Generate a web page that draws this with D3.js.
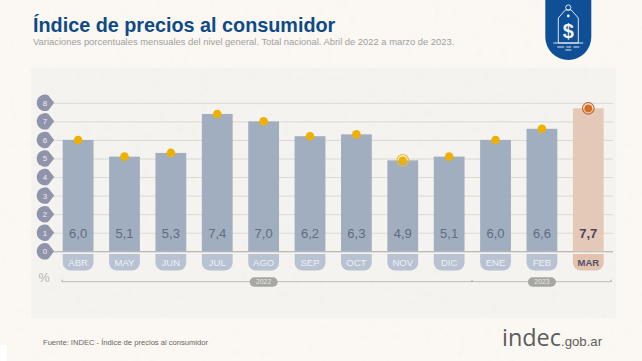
<!DOCTYPE html>
<html>
<head>
<meta charset="utf-8">
<script src="https://cdn.jsdelivr.net/npm/d3@7"></script>
<style>
  html, body { margin: 0; padding: 0; background: #fbf8f3; }
  svg { display: block; font-family: "Liberation Sans", Arial, sans-serif; }
</style>
</head>
<body>
<div id="chart"></div>
<script>
const months = ['ABR', 'MAY', 'JUN', 'JUL', 'AGO', 'SEP', 'OCT', 'NOV', 'DIC', 'ENE', 'FEB', 'MAR'];
const values = [6.0, 5.1, 5.3, 7.4, 7.0, 6.2, 6.3, 4.9, 5.1, 6.0, 6.6, 7.7];
const yTicks = [0, 1, 2, 3, 4, 5, 6, 7, 8];
const years = [{ label: '2022', month: 'AGO' }, { label: '2023', month: 'FEB' }];
const ringed = ['NOV', 'MAR'];
const highlight = 'MAR';

const width = 642;
const height = 361;

const svg = d3.select('#chart').append('svg')
  .attr('width', width)
  .attr('height', height)
  .attr('viewBox', `0 0 ${width} ${height}`);

// paper grain
const defs = svg.append('defs');
const grain = defs.append('filter').attr('id', 'grain').attr('x', 0).attr('y', 0).attr('width', '100%').attr('height', '100%');
grain.append('feTurbulence').attr('type', 'fractalNoise').attr('baseFrequency', 0.12).attr('numOctaves', 2).attr('seed', 4);
grain.append('feColorMatrix').attr('type', 'matrix')
  .attr('values', '0 0 0 0 0.55  0 0 0 0 0.5  0 0 0 0 0.42  0 0 0 2.2 -1.25');

svg.append('rect').attr('width', width).attr('height', height).attr('fill', '#fbf8f3');
svg.append('rect').attr('x', 31).attr('y', 68).attr('width', 585).attr('height', 250).attr('fill', '#f5f3ef');
svg.append('rect').attr('width', width).attr('height', height).attr('filter', 'url(#grain)').attr('opacity', 0.06);

const x = d3.scaleBand().domain(months).range([62.7, 603.7]).paddingInner(0.336).paddingOuter(0);
const y = d3.scaleLinear().domain([0, 8]).range([251.3, 102.8]);

// title block
svg.append('text').attr('x', 33).attr('y', 32).attr('font-size', 19.8).attr('font-weight', 700)
  .attr('fill', '#0e4a86').text('Índice de precios al consumidor');
svg.append('text').attr('x', 33).attr('y', 45).attr('font-size', 9.4).attr('fill', '#a0a09c')
  .text('Variaciones porcentuales mensuales del nivel general. Total nacional. Abril de 2022 a marzo de 2023.');

// gridlines
const gridAxis = svg.append('g')
  .attr('transform', 'translate(54, 0)')
  .call(d3.axisRight(y).tickValues(yTicks).tickSize(559).tickFormat(''));
gridAxis.select('.domain').remove();
gridAxis.selectAll('line')
  .attr('stroke', (d) => (d === 0 ? '#a9a8a5' : '#dbd9d4'))
  .attr('stroke-width', (d) => (d === 0 ? 1.1 : 1));

// bars
svg.append('g').selectAll('rect')
  .data(months)
  .join('rect')
  .attr('x', (d) => x(d))
  .attr('y', (d, i) => y(values[i]))
  .attr('width', x.bandwidth())
  .attr('height', (d, i) => y(0) - y(values[i]))
  .attr('fill', (d) => (d === highlight ? '#e5c9b8' : '#a1aebf'));

// month tabs, rounded at the bottom
const tabTop = 254;
const tabBottom = 270.5;
const tabRadius = 8;
svg.append('g').selectAll('path')
  .data(months)
  .join('path')
  .attr('d', (d) => {
    const l = x(d);
    const r = l + x.bandwidth();
    return `M${l},${tabTop}H${r}V${tabBottom - tabRadius}A${tabRadius},${tabRadius} 0 0 1 ${r - tabRadius},${tabBottom}H${l + tabRadius}A${tabRadius},${tabRadius} 0 0 1 ${l},${tabBottom - tabRadius}Z`;
  })
  .attr('fill', (d) => (d === highlight ? '#e3c3af' : '#b8c2d2'));

svg.append('g').selectAll('text')
  .data(months)
  .join('text')
  .attr('x', (d) => x(d) + x.bandwidth() / 2)
  .attr('y', 265.5)
  .attr('text-anchor', 'middle')
  .attr('font-size', 9.5)
  .attr('font-weight', (d) => (d === highlight ? 700 : 400))
  .attr('fill', (d) => (d === highlight ? '#55506a' : '#eef0f4'))
  .text((d) => d);

// value labels
svg.append('g').selectAll('text')
  .data(months)
  .join('text')
  .attr('x', (d) => x(d) + x.bandwidth() / 2)
  .attr('y', 237.5)
  .attr('text-anchor', 'middle')
  .attr('font-size', 13)
  .attr('font-weight', (d) => (d === highlight ? 700 : 400))
  .attr('fill', (d) => (d === highlight ? '#4a4763' : '#5f6c82'))
  .text((d, i) => values[i].toFixed(1).replace('.', ','));

// rings for the lowest and latest months
svg.append('g').selectAll('circle')
  .data(ringed)
  .join('circle')
  .attr('cx', (d) => x(d) + x.bandwidth() / 2)
  .attr('cy', (d) => y(values[months.indexOf(d)]))
  .attr('r', 5.8)
  .attr('fill', 'none')
  .attr('stroke', (d) => (d === highlight ? '#c9652b' : '#f0bb2c'))
  .attr('stroke-width', 1.1);

// dots
svg.append('g').selectAll('circle')
  .data(months)
  .join('circle')
  .attr('cx', (d) => x(d) + x.bandwidth() / 2)
  .attr('cy', (d, i) => y(values[i]))
  .attr('r', (d) => (ringed.includes(d) ? 3.9 : 4.3))
  .attr('fill', (d) => (d === highlight ? '#d56f23' : '#eeb003'));

// y axis badges
const badges = svg.append('g').selectAll('g')
  .data(yTicks)
  .join('g')
  .attr('transform', (d) => `translate(45, ${y(d)})`);
badges.append('path')
  .attr('d', 'M-8.3,0A8.3,8.3 0 0 1 3.2,-7.6L9.2,0L3.2,7.6A8.3,8.3 0 0 1 -8.3,0Z')
  .attr('fill', '#8f94ab');
badges.append('text')
  .attr('x', 0)
  .attr('y', 3)
  .attr('text-anchor', 'middle')
  .attr('font-size', 8)
  .attr('fill', '#eceef3')
  .text((d) => d);

svg.append('text').attr('x', 44).attr('y', 282).attr('text-anchor', 'middle')
  .attr('font-size', 12.5).attr('fill', '#b5b4b0').text('%');

// year timeline
const timeline = svg.append('g');
timeline.append('line').attr('x1', 62).attr('x2', 611).attr('y1', 281.7).attr('y2', 281.7)
  .attr('stroke', '#bdbcb7').attr('stroke-width', 1);
[62, 472, 611].forEach((tx) => {
  timeline.append('line').attr('x1', tx).attr('x2', tx).attr('y1', 279.7).attr('y2', 282)
    .attr('stroke', '#aaa9a4').attr('stroke-width', 1);
});
const yearTags = timeline.selectAll('g.year')
  .data(years)
  .join('g')
  .attr('class', 'year')
  .attr('transform', (d) => `translate(${x(d.month) + x.bandwidth() / 2}, 282)`);
yearTags.append('rect').attr('x', -14).attr('y', -4.7).attr('width', 28).attr('height', 9.4).attr('rx', 4.7)
  .attr('fill', '#a6a6a2');
yearTags.append('text').attr('y', 2.4).attr('text-anchor', 'middle').attr('font-size', 6.8)
  .attr('fill', '#e9e8e4').text((d) => d.label);

// footer
svg.append('text').attr('x', 43).attr('y', 344.5).attr('font-size', 7.6).attr('fill', '#66645f')
  .text('Fuente: INDEC - Índice de precios al consumidor');
svg.append('text').attr('x', 502).attr('y', 346).attr('fill', '#5d5d5b')
  .attr('font-family', '"Open Sans", sans-serif').attr('font-size', 24)
  .attr('textLength', 59).attr('lengthAdjust', 'spacingAndGlyphs').text('indec');
svg.append('text').attr('x', 561).attr('y', 346).attr('fill', '#5d5d5b')
  .attr('font-size', 13.2).text('.gob.ar');

// price tag badge
const badge = svg.append('g').attr('transform', 'translate(568.3, 0)');
badge.append('path').attr('d', 'M-23,0H23V37A23,23 0 0 1 -23,37Z').attr('fill', '#0f4f96');
const icon = badge.append('g').attr('fill', 'none').attr('stroke', '#f4f6f8').attr('stroke-width', 0.9);
icon.append('path').attr('d', 'M-3,10L-10,18V43H10V18L3,10Z');
icon.append('circle').attr('cy', 7.5).attr('r', 2.6);
icon.append('circle').attr('cy', 16).attr('r', 1.4).attr('fill', '#f4f6f8').attr('stroke', 'none');
badge.append('text').attr('y', 37.5).attr('text-anchor', 'middle').attr('font-size', 20).attr('font-weight', 700)
  .attr('fill', '#f4f6f8').text('$');
icon.append('path').attr('d', 'M-15,43H15M-11,47H-4M-2,47H3M5,47H11M-3,50H3');

// white notch in the corner of the source image
svg.append('rect').attr('x', 0).attr('y', 345).attr('width', 7).attr('height', 16).attr('fill', '#ffffff');
</script>
</body>
</html>
